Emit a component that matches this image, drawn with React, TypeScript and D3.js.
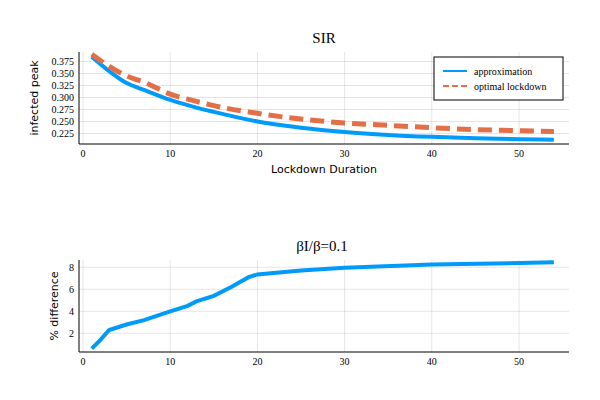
import * as d3 from "d3";
import React from "react";

const days = [1, 3, 5, 7, 10, 13, 15, 20, 25, 30, 35, 40, 45, 50, 54];
const approx = [0.385, 0.355, 0.33, 0.316, 0.295, 0.279, 0.27, 0.25, 0.237, 0.228, 0.222, 0.218, 0.215, 0.213, 0.212];
const optimal = [0.39, 0.365, 0.345, 0.332, 0.307, 0.292, 0.283, 0.267, 0.255, 0.247, 0.242, 0.237, 0.233, 0.231, 0.229];
const diffDays = [1, 2, 3, 5, 7, 10, 12, 13, 15, 17, 19, 20, 25, 30, 40, 54];
const diff = [0.6, 1.4, 2.3, 2.8, 3.2, 4.0, 4.5, 4.9, 5.4, 6.2, 7.1, 7.35, 7.7, 7.95, 8.25, 8.45];
const xTicks = [0, 10, 20, 30, 40, 50];
const yTicksTop = [0.225, 0.25, 0.275, 0.3, 0.325, 0.35, 0.375];
const yTicksBottom = [2, 4, 6, 8];

const serif = "Liberation Serif, serif";
const sans = "DejaVu Sans, sans-serif";
const blue = "#009af9";
const orange = "#e26f46";

export default function App() {
  const x = d3.scaleLinear().domain([0, 50]).range([83, 519]);
  const yTop = d3.scaleLinear().domain([0.225, 0.375]).range([133.5, 61.5]);
  const yBot = d3.scaleLinear().domain([2, 8]).range([333.3, 267.3]);
  const x0 = 79, x1 = 569;

  const lineTop = (ys: number[]) =>
    d3.line<number>().x((_, i) => x(days[i])).y((v) => yTop(v)).curve(d3.curveMonotoneX)(ys) || "";
  const lineBot =
    d3.line<number>().x((_, i) => x(diffDays[i])).y((v) => yBot(v))(diff) || "";

  const panel = (top: number, bottom: number, yTicks: number[], y: any, fmt: (v: number) => string) => (
    <g>
      {xTicks.map((t) => (
        <line key={"gx" + t} x1={x(t)} x2={x(t)} y1={top} y2={bottom} stroke="#000" strokeOpacity={0.1} />
      ))}
      {yTicks.map((t) => (
        <line key={"gy" + t} x1={x0} x2={x1} y1={y(t)} y2={y(t)} stroke="#000" strokeOpacity={0.1} />
      ))}
      <line x1={x0} x2={x0} y1={top} y2={bottom} stroke="#000" />
      <line x1={x0} x2={x1} y1={bottom} y2={bottom} stroke="#000" />
      {xTicks.map((t) => (
        <text key={"tx" + t} x={x(t)} y={bottom + 13} fontSize={10} fontFamily={serif} textAnchor="middle">{t}</text>
      ))}
      {yTicks.map((t) => (
        <text key={"ty" + t} x={x0 - 5} y={y(t) + 3.5} fontSize={10} fontFamily={serif} textAnchor="end">{fmt(t)}</text>
      ))}
    </g>
  );

  return (
    <svg width={600} height={400} style={{ position: "absolute", left: 0, top: 0 }}>
      <rect width={600} height={400} fill="#fff" />
      <text x={324} y={43} fontSize={15} fontFamily={serif} textAnchor="middle">SIR</text>
      {panel(52, 144, yTicksTop, yTop, d3.format(".3f"))}
      <path d={lineTop(approx)} fill="none" stroke={blue} strokeWidth={4} />
      <path d={lineTop(optimal)} fill="none" stroke={orange} strokeWidth={5} strokeDasharray="14 7" />
      <text x={324} y={173} fontSize={11} fontFamily={sans} textAnchor="middle">Lockdown Duration</text>
      <text transform="translate(38,98) rotate(-90)" fontSize={11} fontFamily={sans} textAnchor="middle">infected peak</text>
      <rect x={434} y={57} width={129} height={43} fill="#fff" stroke="#000" />
      <line x1={443} x2={467} y1={71} y2={71} stroke={blue} strokeWidth={2} />
      <text x={474} y={74.5} fontSize={10} fontFamily={serif}>approximation</text>
      <line x1={443} x2={467} y1={86} y2={86} stroke={orange} strokeWidth={2} strokeDasharray="6 3" />
      <text x={474} y={89.5} fontSize={10} fontFamily={serif}>optimal lockdown</text>

      <text x={322} y={251} fontSize={15} fontFamily={serif} textAnchor="middle">βI/β=0.1</text>
      {panel(260, 352, yTicksBottom, yBot, (v) => String(v))}
      <path d={lineBot} fill="none" stroke={blue} strokeWidth={4} />
      <text transform="translate(58,306) rotate(-90)" fontSize={11} fontFamily={sans} textAnchor="middle">% difference</text>
    </svg>
  );
}
